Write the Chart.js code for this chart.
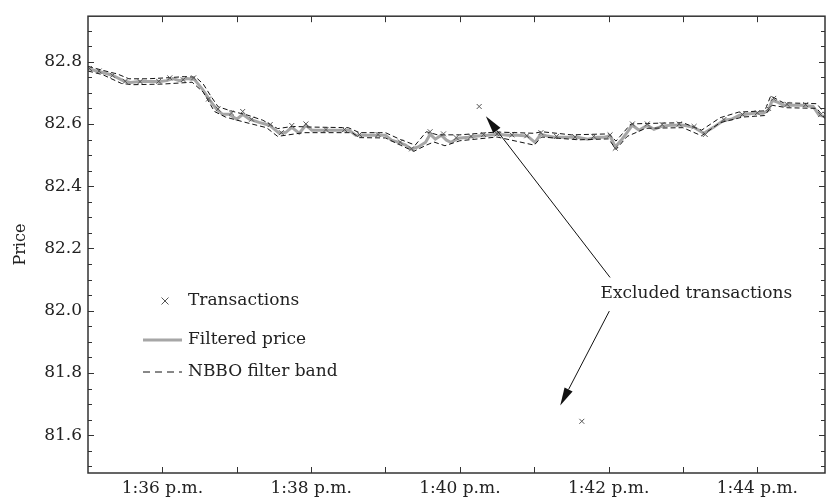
<!DOCTYPE html>
<html>
<head>
<meta charset="utf-8">
<script src="https://cdn.jsdelivr.net/npm/chart.js@4.4.1/dist/chart.umd.min.js"></script>
<style>
  html, body { margin: 0; padding: 0; background: #fff; }
</style>
</head>
<body>
<canvas id="chart" width="830" height="498"></canvas>
<script>
// time is in minutes past 1 p.m.
const xTickValues = [36, 38, 40, 42, 44];
const xTickLabels = ['1:36 p.m.', '1:38 p.m.', '1:40 p.m.', '1:42 p.m.', '1:44 p.m.'];
const yTickValues = [81.6, 81.8, 82.0, 82.2, 82.4, 82.6, 82.8];
const yTickLabels = ['81.6', '81.8', '82.0', '82.2', '82.4', '82.6', '82.8'];

const priceTime = [35.00, 35.10, 35.20, 35.34, 35.47, 35.57, 35.70, 35.83, 35.97, 36.06,
  36.14, 36.23, 36.33, 36.43, 36.54, 36.64, 36.73, 36.81, 36.90, 37.00,
  37.08, 37.17, 37.30, 37.44, 37.57, 37.66, 37.74, 37.84, 37.93, 38.01,
  38.11, 38.31, 38.51, 38.60, 38.73, 38.87, 39.00, 39.08, 39.18, 39.27,
  39.35, 39.44, 39.54, 39.60, 39.67, 39.75, 39.82, 39.88, 39.98, 40.11,
  40.24, 40.38, 40.51, 40.65, 40.78, 40.91, 41.01, 41.09, 41.18, 41.27,
  41.38, 41.49, 41.58, 41.72, 41.85, 41.94, 42.02, 42.09, 42.18, 42.25,
  42.32, 42.41, 42.52, 42.61, 42.72, 42.83, 42.92, 43.01, 43.15, 43.28,
  43.41, 43.55, 43.65, 43.76, 43.85, 43.95, 44.08, 44.15, 44.20, 44.28,
  44.35, 44.46, 44.59, 44.75, 44.83, 44.91];
const priceValue = [82.778, 82.771, 82.765, 82.755, 82.739, 82.733, 82.736, 82.736, 82.736, 82.739,
  82.746, 82.739, 82.746, 82.743, 82.711, 82.676, 82.647, 82.631, 82.631, 82.615,
  82.631, 82.615, 82.605, 82.596, 82.570, 82.573, 82.589, 82.570, 82.596, 82.580,
  82.580, 82.580, 82.580, 82.564, 82.564, 82.564, 82.564, 82.548, 82.541, 82.532,
  82.519, 82.526, 82.541, 82.567, 82.551, 82.564, 82.548, 82.541, 82.554, 82.557,
  82.561, 82.564, 82.567, 82.564, 82.564, 82.561, 82.541, 82.567, 82.561, 82.557,
  82.557, 82.557, 82.557, 82.551, 82.557, 82.557, 82.561, 82.526, 82.551, 82.573,
  82.596, 82.580, 82.596, 82.583, 82.593, 82.596, 82.596, 82.596, 82.589, 82.570,
  82.589, 82.612, 82.615, 82.628, 82.631, 82.634, 82.634, 82.644, 82.676, 82.669,
  82.660, 82.660, 82.660, 82.656, 82.628, 82.624];

const bandUpTime = [35.00, 35.20, 35.40, 35.55, 35.80, 36.05, 36.30, 36.45, 36.55, 36.65,
  36.75, 36.95, 37.15, 37.35, 37.55, 37.75, 38.00, 38.50, 38.65, 39.00,
  39.20, 39.40, 39.55, 39.70, 40.00, 40.50, 41.00, 41.10, 41.50, 42.00,
  42.10, 42.30, 42.60, 43.00, 43.25, 43.50, 43.75, 44.10, 44.18, 44.35,
  44.80, 44.91];
const bandUp = [82.785, 82.772, 82.760, 82.745, 82.745, 82.748, 82.752, 82.750, 82.728, 82.690,
  82.655, 82.640, 82.628, 82.612, 82.585, 82.592, 82.590, 82.588, 82.572, 82.572,
  82.550, 82.532, 82.575, 82.565, 82.565, 82.574, 82.570, 82.575, 82.565, 82.568,
  82.545, 82.600, 82.602, 82.604, 82.580, 82.620, 82.638, 82.642, 82.690, 82.668,
  82.665, 82.632];

const bandLowTime = [35.00, 35.20, 35.45, 35.60, 36.00, 36.40, 36.55, 36.70, 36.85, 37.10,
  37.40, 37.55, 37.90, 38.10, 38.55, 38.65, 39.00, 39.20, 39.38, 39.55,
  39.65, 39.80, 40.00, 40.50, 41.00, 41.10, 41.60, 42.00, 42.10, 42.25,
  42.50, 43.00, 43.25, 43.50, 43.80, 44.10, 44.20, 44.40, 44.80, 44.91];
const bandLow = [82.770, 82.758, 82.730, 82.726, 82.728, 82.734, 82.702, 82.640, 82.622, 82.606,
  82.588, 82.560, 82.572, 82.572, 82.572, 82.556, 82.555, 82.532, 82.512, 82.532,
  82.542, 82.530, 82.546, 82.558, 82.532, 82.558, 82.549, 82.552, 82.518, 82.560,
  82.586, 82.588, 82.562, 82.604, 82.622, 82.627, 82.660, 82.652, 82.650, 82.617];

const tradeTime = [35.02, 35.15, 35.33, 35.50, 35.70, 35.95, 36.10, 36.28, 36.42, 36.62,
  36.75, 36.93, 37.08, 37.20, 37.45, 37.60, 37.74, 37.93, 38.20, 38.45,
  38.65, 38.90, 39.20, 39.35, 39.60, 39.78, 39.95, 40.15, 40.32, 40.50,
  40.70, 40.90, 41.09, 41.30, 41.55, 41.80, 42.02, 42.09, 42.32, 42.52,
  42.72, 42.95, 43.15, 43.30, 43.55, 43.80, 44.00, 44.15, 44.22, 44.40,
  44.65, 44.85];
const tradePrice = [82.778, 82.770, 82.756, 82.737, 82.736, 82.737, 82.748, 82.742, 82.748, 82.680,
  82.648, 82.635, 82.640, 82.615, 82.598, 82.572, 82.595, 82.600, 82.582, 82.582,
  82.566, 82.566, 82.542, 82.520, 82.575, 82.568, 82.556, 82.560, 82.566, 82.568,
  82.565, 82.562, 82.572, 82.560, 82.558, 82.560, 82.565, 82.522, 82.600, 82.600,
  82.598, 82.600, 82.592, 82.566, 82.614, 82.630, 82.636, 82.650, 82.682, 82.663,
  82.662, 82.630];

const excludedTime = [40.26, 41.64];
const excludedPrice = [82.656, 81.645];

const FONT = "'DejaVu Serif', serif";
const INK = '#222';

function pts(xs, ys) {
  return xs.map((x, i) => ({ x: x, y: ys[i] }));
}

function drawArrow(ctx, x1, y1, x2, y2) {
  const ang = Math.atan2(y2 - y1, x2 - x1);
  const len = 18, half = 4.5;
  const bx = x2 - len * Math.cos(ang), by = y2 - len * Math.sin(ang);
  ctx.beginPath();
  ctx.moveTo(x1, y1);
  ctx.lineTo(bx, by);
  ctx.stroke();
  ctx.beginPath();
  ctx.moveTo(x2, y2);
  ctx.lineTo(bx + half * Math.sin(ang), by - half * Math.cos(ang));
  ctx.lineTo(bx - half * Math.sin(ang), by + half * Math.cos(ang));
  ctx.closePath();
  ctx.fill();
}

// frame with inward ticks, legend and the arrows
const framePlugin = {
  id: 'frame',
  afterDraw(chart) {
    const { ctx, chartArea: a, scales: { x, y } } = chart;
    ctx.save();
    ctx.strokeStyle = '#333';
    ctx.lineWidth = 1.5;
    ctx.strokeRect(a.left, a.top, a.right - a.left, a.bottom - a.top);

    ctx.lineWidth = 1;
    ctx.beginPath();
    for (let m = 35; m <= 45; m++) {
      const px = Math.round(x.getPixelForValue(m)) + 0.5;
      if (px <= a.left + 1 || px >= a.right - 1) continue;
      ctx.moveTo(px, a.bottom); ctx.lineTo(px, a.bottom - 6);
      ctx.moveTo(px, a.top); ctx.lineTo(px, a.top + 6);
    }
    for (let k = 0; k <= 30; k++) {
      const v = 81.45 + k * 0.05;
      const py = Math.round(y.getPixelForValue(v)) + 0.5;
      if (py <= a.top + 1 || py >= a.bottom - 1) continue;
      const major = Math.abs(Math.round(v * 5) - v * 5) < 1e-6;
      const len = major ? 6 : 4;
      ctx.moveTo(a.left, py); ctx.lineTo(a.left + len, py);
      ctx.moveTo(a.right, py); ctx.lineTo(a.right - len, py);
    }
    ctx.stroke();

    // legend
    ctx.fillStyle = INK;
    ctx.font = '17px ' + FONT;
    ctx.textBaseline = 'middle';
    ctx.textAlign = 'left';
    const lx = a.left + 55, ty = [301, 340, 372];
    ctx.strokeStyle = '#555';
    ctx.lineWidth = 1;
    ctx.beginPath();
    ctx.moveTo(lx + 22 - 3.5, ty[0] - 3.5); ctx.lineTo(lx + 22 + 3.5, ty[0] + 3.5);
    ctx.moveTo(lx + 22 + 3.5, ty[0] - 3.5); ctx.lineTo(lx + 22 - 3.5, ty[0] + 3.5);
    ctx.stroke();
    ctx.fillText('Transactions', lx + 45, ty[0]);
    ctx.strokeStyle = '#a6a6a6';
    ctx.lineWidth = 3;
    ctx.beginPath();
    ctx.moveTo(lx, ty[1]); ctx.lineTo(lx + 39, ty[1]);
    ctx.stroke();
    ctx.fillText('Filtered price', lx + 45, ty[1]);
    ctx.strokeStyle = '#111';
    ctx.lineWidth = 1;
    ctx.setLineDash([7, 5]);
    ctx.beginPath();
    ctx.moveTo(lx, ty[2]); ctx.lineTo(lx + 39, ty[2]);
    ctx.stroke();
    ctx.setLineDash([]);
    ctx.fillText('NBBO filter band', lx + 45, ty[2]);

    // annotation
    ctx.textAlign = 'center';
    ctx.fillText('Excluded transactions', x.getPixelForValue(43.18), y.getPixelForValue(82.056));
    ctx.strokeStyle = '#111';
    ctx.fillStyle = '#111';
    ctx.lineWidth = 1;
    drawArrow(ctx, x.getPixelForValue(42.02), y.getPixelForValue(82.107),
      x.getPixelForValue(40.35), y.getPixelForValue(82.625));
    drawArrow(ctx, x.getPixelForValue(42.01), y.getPixelForValue(81.999),
      x.getPixelForValue(41.35), y.getPixelForValue(81.696));
    ctx.restore();
  }
};

const ctx = document.getElementById('chart').getContext('2d');
new Chart(ctx, {
  type: 'line',
  data: {
    datasets: [
      {
        label: 'Transactions',
        data: pts(tradeTime.concat(excludedTime), tradePrice.concat(excludedPrice)),
        showLine: false,
        pointStyle: 'crossRot',
        pointRadius: 3.5,
        borderColor: '#555',
        borderWidth: 1,
        order: 0
      },
      {
        label: 'NBBO filter band',
        data: pts(bandUpTime, bandUp),
        borderColor: '#111',
        borderWidth: 1,
        borderDash: [5, 3],
        pointRadius: 0,
        fill: false,
        tension: 0,
        order: 1
      },
      {
        label: 'NBBO filter band (lower)',
        data: pts(bandLowTime, bandLow),
        borderColor: '#111',
        borderWidth: 1,
        borderDash: [5, 3],
        pointRadius: 0,
        fill: false,
        tension: 0,
        order: 1
      },
      {
        label: 'Filtered price',
        data: pts(priceTime, priceValue),
        borderColor: '#a6a6a6',
        borderWidth: 3,
        pointRadius: 0,
        fill: false,
        tension: 0,
        order: 2
      }
    ]
  },
  options: {
    responsive: false,
    animation: false,
    layout: { padding: { top: 12, right: 1, left: 0, bottom: 0 } },
    plugins: {
      legend: { display: false },
      tooltip: { enabled: false }
    },
    scales: {
      x: {
        type: 'linear',
        min: 35,
        max: 44.91,
        grid: { display: false, drawTicks: false },
        border: { display: false },
        afterBuildTicks: s => { s.ticks = xTickValues.map(v => ({ value: v })); },
        afterFit: s => { s.height = 25; },
        ticks: {
          padding: 5,
          color: INK,
          font: { family: FONT, size: 17 },
          maxRotation: 0,
          autoSkip: false,
          callback: (v, i) => xTickLabels[i]
        }
      },
      y: {
        type: 'linear',
        min: 81.479,
        max: 82.946,
        grid: { display: false, drawTicks: false },
        border: { display: false },
        afterBuildTicks: s => { s.ticks = yTickValues.map(v => ({ value: v })); },
        afterFit: s => { s.width = 88; },
        ticks: {
          padding: 6,
          color: INK,
          font: { family: FONT, size: 17 },
          callback: (v, i) => yTickLabels[i]
        },
        title: {
          display: true,
          text: 'Price',
          color: INK,
          font: { family: FONT, size: 16 },
          padding: { top: 11, bottom: 0 }
        }
      }
    }
  },
  plugins: [framePlugin]
});
</script>
</body>
</html>
